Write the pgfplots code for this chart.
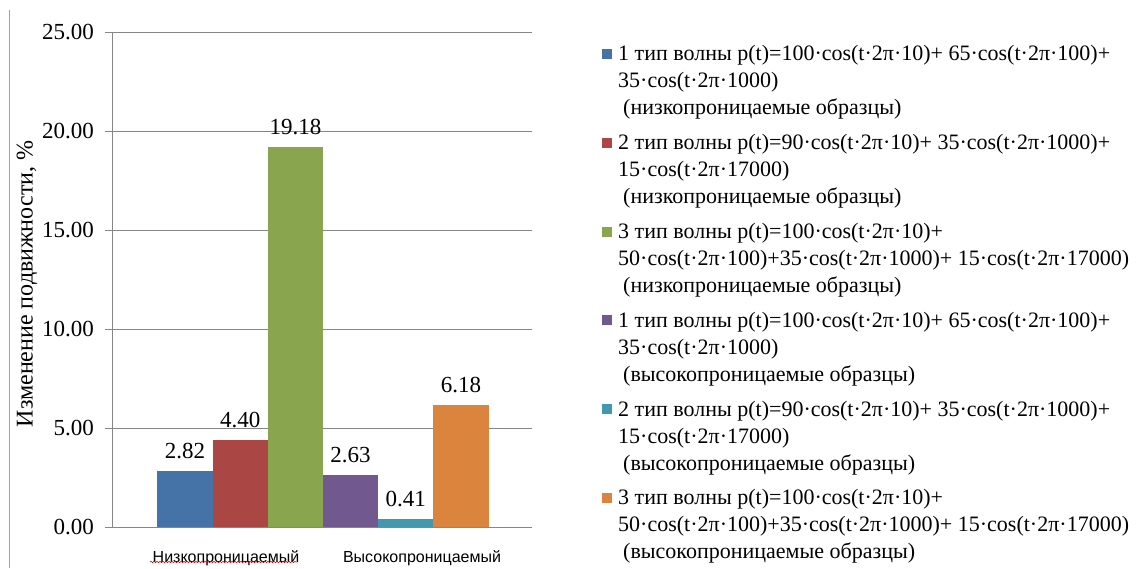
\documentclass[border=0pt]{standalone}
\usepackage{fontspec}
\setmainfont{Liberation Serif}
\newfontfamily\arialfont{Liberation Sans}
\usepackage{pgfplots}
\pgfplotsset{compat=1.18}
\usetikzlibrary{decorations.pathmorphing}

\definecolor{sBlue}{HTML}{4572A7}
\definecolor{sRed}{HTML}{AA4643}
\definecolor{sGreen}{HTML}{89A54E}
\definecolor{sPurple}{HTML}{71588F}
\definecolor{sTeal}{HTML}{4198AF}
\definecolor{sOrange}{HTML}{DB843D}
\definecolor{gridgrey}{HTML}{868686}
\definecolor{framecol}{HTML}{8FA2C9}

\pgfplotsset{
  onebar/.style={ybar, bar width=55.2, bar shift=0pt, draw=none, fill=#1},
}

\begin{document}
\begin{tikzpicture}[x=1pt,y=1pt]
\useasboundingbox (0,0) rectangle (1137,568);
\draw[framecol, line width=0.8pt] (9.5,0) -- (9.5,558);
\begin{axis}[
  at={(112pt,41pt)}, anchor=south west, scale only axis,
  width=420pt, height=495pt,
  xmin=0, xmax=420, ymin=0, ymax=25,
  axis x line=bottom, axis y line=left,
  axis line style={draw=gridgrey, line width=0.8pt, -},
  ytick={0,5,10,15,20,25},
  ymajorgrids, grid style={gridgrey, line width=0.8pt},
  ytick style={gridgrey, line width=0.8pt},
  tick align=outside, major tick length=7pt,
  xtick={114,310},
  xticklabels={Низкопроницаемый,Высокопроницаемый},
  xtick style={draw=none},
  xticklabel style={font=\arialfont\fontsize{16}{19}\selectfont, anchor=north, inner sep=0pt, yshift=-16pt},
  yticklabel style={font=\fontsize{23}{27}\selectfont, anchor=east, inner sep=0pt, xshift=-11pt,
    /pgf/number format/.cd, fixed, fixed zerofill, precision=2, assume math mode=true},
  every axis y label/.style={at={(axis description cs:-0.2024,0.491)}, rotate=90, anchor=center,
    font=\fontsize{24}{28}\selectfont},
  ylabel={Изменение подвижности, \%},
  nodes near coords,
  every node near coord/.append style={font=\fontsize{23}{27}\selectfont, anchor=south,
    inner sep=0pt, yshift=12pt, black,
    /pgf/number format/.cd, fixed, fixed zerofill, precision=2, assume math mode=true},
  legend style={at={(1.1667,0.9727)}, anchor=north west, draw=none, fill=none,
    inner sep=0pt, font=\fontsize{22}{27}\selectfont, cells={align=left},
    row sep=18pt, nodes={inner sep=0pt}},
  legend cell align=left,
  legend image code/.code={\fill[#1] (0pt,22pt) rectangle (10pt,32pt); \path (16pt,27pt);},
]
\addplot[onebar=sBlue]   coordinates {(73,2.82)};
\addplot[onebar=sRed]    coordinates {(128.2,4.40)};
\addplot[onebar=sGreen]  coordinates {(183.4,19.18)};
\addplot[onebar=sPurple] coordinates {(238.6,2.63)};
\addplot[onebar=sTeal]   coordinates {(293.8,0.41)};
\addplot[onebar=sOrange] coordinates {(349,6.18)};
\addlegendentry{1 тип волны p(t)=100·cos(t·2π·10)+ 65·cos(t·2π·100)+\\35·cos(t·2π·1000)\\\hspace*{5pt}(низкопроницаемые образцы)}
\addlegendentry{2 тип волны p(t)=90·cos(t·2π·10)+ 35·cos(t·2π·1000)+\\15·cos(t·2π·17000)\\\hspace*{5pt}(низкопроницаемые образцы)}
\addlegendentry{3 тип волны p(t)=100·cos(t·2π·10)+\\50·cos(t·2π·100)+35·cos(t·2π·1000)+ 15·cos(t·2π·17000)\\\hspace*{5pt}(низкопроницаемые образцы)}
\addlegendentry{1 тип волны p(t)=100·cos(t·2π·10)+ 65·cos(t·2π·100)+\\35·cos(t·2π·1000)\\\hspace*{5pt}(высокопроницаемые образцы)}
\addlegendentry{2 тип волны p(t)=90·cos(t·2π·10)+ 35·cos(t·2π·1000)+\\15·cos(t·2π·17000)\\\hspace*{5pt}(высокопроницаемые образцы)}
\addlegendentry{3 тип волны p(t)=100·cos(t·2π·10)+\\50·cos(t·2π·100)+35·cos(t·2π·1000)+ 15·cos(t·2π·17000)\\\hspace*{5pt}(высокопроницаемые образцы)}
\end{axis}
% spell-check squiggle under the first category name
\draw[red!85!black, line width=0.5pt, decorate,
  decoration={snake, amplitude=0.8pt, segment length=3pt}] (150,6) -- (297,6);
\end{tikzpicture}
\end{document}
